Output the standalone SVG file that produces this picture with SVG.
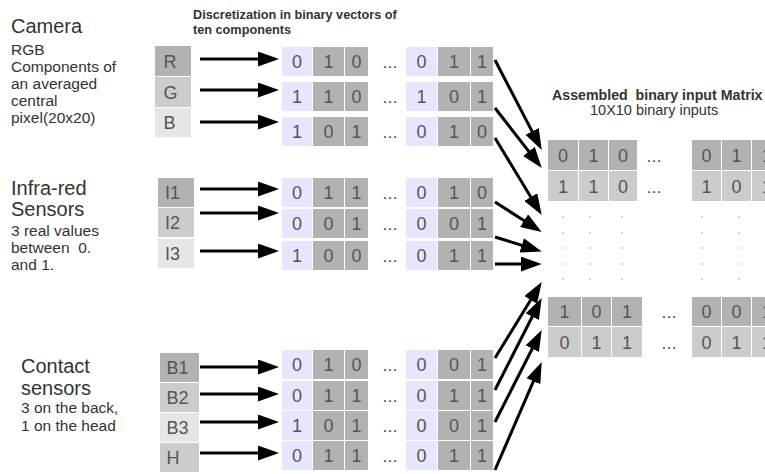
<svg xmlns="http://www.w3.org/2000/svg" width="765" height="474" viewBox="0 0 765 474">
<style>
.big{font-family:"Liberation Sans",Arial,sans-serif;font-size:20px;fill:#333}
.small{font-family:"Liberation Sans",Arial,sans-serif;font-size:15.5px;fill:#333;white-space:pre}
.title{font-family:"Liberation Sans",Arial,sans-serif;font-size:12.7px;font-weight:bold;fill:#333}
.mtitle{font-family:"Liberation Sans",Arial,sans-serif;font-size:14.2px;font-weight:bold;fill:#333;white-space:pre}
.msub{font-family:"Liberation Sans",Arial,sans-serif;font-size:14.5px;fill:#333}
.lab{font-family:"Liberation Sans",Arial,sans-serif;font-size:18px;fill:#555}
.d{font-family:"Liberation Sans",Arial,sans-serif;font-size:18px;fill:#555;text-anchor:middle}
.dots{font-family:"Liberation Sans",Arial,sans-serif;font-size:16px;fill:#333;text-anchor:middle}
.c1{fill:#b2b2b2}.c2{fill:#cccccc}.c3{fill:#e6e6e6}.lv{fill:#e6e6ff}
.arr{stroke:#000;stroke-width:3;fill:none;marker-end:url(#ah)}
.gd{fill:#8a8a8a}
</style>
<defs>
<marker id="ah" markerUnits="userSpaceOnUse" markerWidth="21" markerHeight="15" viewBox="0 0 21 15" refX="4" refY="7.5" orient="auto">
<path d="M0,0 L21,7.5 L0,15 z" fill="#000"/>
</marker>
<g id="vec">
<rect class="lv" x="282" y="0" width="30" height="29"/>
<rect class="c1" x="313" y="0" width="31" height="29"/>
<rect class="c1" x="345" y="0" width="23" height="29"/>
<rect class="lv" x="406" y="0" width="31" height="29"/>
<rect class="c1" x="438" y="0" width="32" height="29"/>
<rect class="c1" x="471" y="0" width="22" height="29"/>
</g>
</defs>

<!-- headings -->
<g id="titles">
<text class="title" x="193" y="19">Discretization in binary vectors of</text>
<text class="title" x="193" y="34">ten components</text>
</g>

<!-- Camera -->
<g id="camera">
<text class="big" x="11" y="33">Camera</text>
<text class="small" x="11" y="55">RGB</text>
<text class="small" x="11" y="72">Components of</text>
<text class="small" x="11" y="89">an averaged</text>
<text class="small" x="11" y="106">central</text>
<text class="small" x="11" y="123">pixel(20x20)</text>
</g>
<g id="label-R"><rect class="c1" x="155" y="46" width="36" height="30"/><text class="lab" x="163.5" y="67.5">R</text></g>
<g id="label-G"><rect class="c2" x="155" y="77" width="36" height="30"/><text class="lab" x="163.5" y="98.5">G</text></g>
<g id="label-B"><rect class="c3" x="155" y="108" width="36" height="29"/><text class="lab" x="163.5" y="129">B</text></g>

<!-- Infra-red -->
<g id="infrared">
<text class="big" x="11" y="195">Infra-red</text>
<text class="big" x="11" y="216">Sensors</text>
<text class="small" x="11" y="236">3 real values</text>
<text class="small" x="11" y="253">between  0.</text>
<text class="small" x="11" y="270">and 1.</text>
</g>
<g id="label-I1"><rect class="c1" x="158" y="178" width="36" height="29"/><text class="lab" x="165" y="199">I1</text></g>
<g id="label-I2"><rect class="c2" x="158" y="208" width="36" height="29"/><text class="lab" x="165" y="229">I2</text></g>
<g id="label-I3"><rect class="c3" x="158" y="239" width="36" height="29"/><text class="lab" x="165" y="260">I3</text></g>

<!-- Contact -->
<g id="contact">
<text class="big" x="21" y="373">Contact</text>
<text class="big" x="21" y="395">sensors</text>
<text class="small" x="21" y="413">3 on the back,</text>
<text class="small" x="21" y="431">1 on the head</text>
</g>
<g id="label-B1"><rect class="c1" x="160" y="353" width="39" height="29"/><text class="lab" x="166.5" y="374">B1</text></g>
<g id="label-B2"><rect class="c2" x="160" y="383" width="39" height="29"/><text class="lab" x="166.5" y="404">B2</text></g>
<g id="label-B3"><rect class="c3" x="160" y="413" width="39" height="29"/><text class="lab" x="166.5" y="434">B3</text></g>
<g id="label-H"><rect class="c2" x="160" y="443" width="39" height="29"/><text class="lab" x="166.5" y="464">H</text></g>

<!-- vectors -->
<g id="vec-R"><use href="#vec" y="47"/>
<text class="d" x="297" y="68">0</text><text class="d" x="328.5" y="68">1</text><text class="d" x="356.5" y="68">0</text><text class="dots" x="390" y="68">…</text><text class="d" x="421.5" y="68">0</text><text class="d" x="454" y="68">1</text><text class="d" x="482" y="68">1</text></g>
<g id="vec-G"><use href="#vec" y="82"/>
<text class="d" x="297" y="103">1</text><text class="d" x="328.5" y="103">1</text><text class="d" x="356.5" y="103">0</text><text class="dots" x="390" y="103">…</text><text class="d" x="421.5" y="103">1</text><text class="d" x="454" y="103">0</text><text class="d" x="482" y="103">1</text></g>
<g id="vec-B"><use href="#vec" y="117"/>
<text class="d" x="297" y="138">1</text><text class="d" x="328.5" y="138">0</text><text class="d" x="356.5" y="138">1</text><text class="dots" x="390" y="138">…</text><text class="d" x="421.5" y="138">0</text><text class="d" x="454" y="138">1</text><text class="d" x="482" y="138">0</text></g>

<g id="vec-I1"><use href="#vec" y="178"/>
<text class="d" x="297" y="199">0</text><text class="d" x="328.5" y="199">1</text><text class="d" x="356.5" y="199">1</text><text class="dots" x="390" y="199">…</text><text class="d" x="421.5" y="199">0</text><text class="d" x="454" y="199">1</text><text class="d" x="482" y="199">0</text></g>
<g id="vec-I2"><use href="#vec" y="209"/>
<text class="d" x="297" y="230">0</text><text class="d" x="328.5" y="230">0</text><text class="d" x="356.5" y="230">1</text><text class="dots" x="390" y="230">…</text><text class="d" x="421.5" y="230">0</text><text class="d" x="454" y="230">0</text><text class="d" x="482" y="230">1</text></g>
<g id="vec-I3"><use href="#vec" y="241"/>
<text class="d" x="297" y="262">1</text><text class="d" x="328.5" y="262">0</text><text class="d" x="356.5" y="262">0</text><text class="dots" x="390" y="262">…</text><text class="d" x="421.5" y="262">0</text><text class="d" x="454" y="262">1</text><text class="d" x="482" y="262">1</text></g>

<g id="vec-B1"><use href="#vec" y="350"/>
<text class="d" x="297" y="371">0</text><text class="d" x="328.5" y="371">1</text><text class="d" x="356.5" y="371">0</text><text class="dots" x="390" y="371">…</text><text class="d" x="421.5" y="371">0</text><text class="d" x="454" y="371">0</text><text class="d" x="482" y="371">1</text></g>
<g id="vec-B2"><use href="#vec" y="381"/>
<text class="d" x="297" y="402">0</text><text class="d" x="328.5" y="402">1</text><text class="d" x="356.5" y="402">1</text><text class="dots" x="390" y="402">…</text><text class="d" x="421.5" y="402">0</text><text class="d" x="454" y="402">1</text><text class="d" x="482" y="402">1</text></g>
<g id="vec-B3"><use href="#vec" y="411"/>
<text class="d" x="297" y="432">1</text><text class="d" x="328.5" y="432">0</text><text class="d" x="356.5" y="432">1</text><text class="dots" x="390" y="432">…</text><text class="d" x="421.5" y="432">0</text><text class="d" x="454" y="432">0</text><text class="d" x="482" y="432">1</text></g>
<g id="vec-H"><use href="#vec" y="441"/>
<text class="d" x="297" y="462">0</text><text class="d" x="328.5" y="462">1</text><text class="d" x="356.5" y="462">1</text><text class="dots" x="390" y="462">…</text><text class="d" x="421.5" y="462">0</text><text class="d" x="454" y="462">1</text><text class="d" x="482" y="462">1</text></g>

<!-- Matrix -->
<g id="matrix">
<text class="mtitle" x="552" y="100">Assembled  binary input Matrix</text>
<text class="msub" x="590" y="115">10X10 binary inputs</text>
<rect class="c1" x="548" y="140" width="30" height="30"/><rect class="c1" x="579" y="140" width="29" height="30"/><rect class="c1" x="609" y="140" width="28" height="30"/>
<rect class="c1" x="692" y="140" width="29" height="30"/><rect class="c1" x="722" y="140" width="29" height="30"/><rect class="c1" x="752" y="140" width="30" height="30"/>
<rect class="c2" x="548" y="171" width="30" height="30"/><rect class="c2" x="579" y="171" width="29" height="30"/><rect class="c2" x="609" y="171" width="28" height="30"/>
<rect class="c2" x="692" y="171" width="29" height="30"/><rect class="c2" x="722" y="171" width="29" height="30"/><rect class="c2" x="752" y="171" width="30" height="30"/>
<text class="d" x="563" y="161.5">0</text><text class="d" x="593.5" y="161.5">1</text><text class="d" x="623" y="161.5">0</text><text class="dots" x="654" y="161.5">…</text>
<text class="d" x="706.5" y="161.5">0</text><text class="d" x="736.5" y="161.5">1</text><text class="d" x="767" y="161.5">1</text>
<text class="d" x="563" y="192.5">1</text><text class="d" x="593.5" y="192.5">1</text><text class="d" x="623" y="192.5">0</text><text class="dots" x="654" y="192.5">…</text>
<text class="d" x="706.5" y="192.5">1</text><text class="d" x="736.5" y="192.5">0</text><text class="d" x="767" y="192.5">1</text>

<rect class="c1" x="548" y="297" width="33" height="29"/><rect class="c1" x="582" y="297" width="29" height="29"/><rect class="c1" x="612" y="297" width="30" height="29"/>
<rect class="c1" x="692" y="297" width="29" height="29"/><rect class="c1" x="722" y="297" width="29" height="29"/><rect class="c1" x="752" y="297" width="30" height="29"/>
<rect class="c2" x="548" y="327" width="33" height="30"/><rect class="c2" x="582" y="327" width="29" height="30"/><rect class="c2" x="612" y="327" width="30" height="30"/>
<rect class="c2" x="692" y="327" width="29" height="30"/><rect class="c2" x="722" y="327" width="29" height="30"/><rect class="c2" x="752" y="327" width="30" height="30"/>
<text class="d" x="564.5" y="318">1</text><text class="d" x="596.5" y="318">0</text><text class="d" x="627" y="318">1</text><text class="dots" x="669" y="318">…</text>
<text class="d" x="706.5" y="318">0</text><text class="d" x="736.5" y="318">0</text><text class="d" x="767" y="318">1</text>
<text class="d" x="564.5" y="348.5">0</text><text class="d" x="596.5" y="348.5">1</text><text class="d" x="627" y="348.5">1</text><text class="dots" x="669" y="348.5">…</text>
<text class="d" x="706.5" y="348.5">0</text><text class="d" x="736.5" y="348.5">1</text><text class="d" x="767" y="348.5">1</text>

<g class="gd">
<circle cx="563" cy="217" r="0.7"/><circle cx="590" cy="217" r="0.7"/><circle cx="622" cy="217" r="0.7"/><circle cx="702" cy="217" r="0.7"/><circle cx="739" cy="217" r="0.7"/>
<circle cx="563" cy="233" r="0.7"/><circle cx="590" cy="233" r="0.7"/><circle cx="622" cy="233" r="0.7"/><circle cx="702" cy="233" r="0.7"/><circle cx="739" cy="233" r="0.7"/>
<circle cx="563" cy="248" r="0.7"/><circle cx="590" cy="248" r="0.7"/><circle cx="622" cy="248" r="0.7"/><circle cx="702" cy="248" r="0.7"/><circle cx="739" cy="248" r="0.7"/>
<circle cx="563" cy="264" r="0.7"/><circle cx="590" cy="264" r="0.7"/><circle cx="622" cy="264" r="0.7"/><circle cx="702" cy="264" r="0.7"/><circle cx="739" cy="264" r="0.7"/>
<circle cx="563" cy="279" r="0.7"/><circle cx="590" cy="279" r="0.7"/><circle cx="622" cy="279" r="0.7"/><circle cx="702" cy="279" r="0.7"/><circle cx="739" cy="279" r="0.7"/>
</g>
</g>

<!-- connectors -->
<g id="connectors">
<line class="arr" x1="200" y1="59" x2="262" y2="59"/>
<line class="arr" x1="200" y1="90" x2="262" y2="90"/>
<line class="arr" x1="200" y1="122" x2="262" y2="122"/>
<line class="arr" x1="200" y1="189" x2="262" y2="189"/>
<line class="arr" x1="200" y1="213" x2="262" y2="213"/>
<line class="arr" x1="200" y1="251" x2="262" y2="251"/>
<line class="arr" x1="200" y1="367" x2="262" y2="367"/>
<line class="arr" x1="200" y1="394" x2="262" y2="394"/>
<line class="arr" x1="200" y1="422" x2="262" y2="422"/>
<line class="arr" x1="200" y1="453" x2="262" y2="453"/>

<line class="arr" x1="495" y1="60" x2="533.9" y2="134.9"/>
<line class="arr" x1="495" y1="108" x2="531.3" y2="154.6"/>
<line class="arr" x1="495" y1="138" x2="532.9" y2="200.5"/>
<line class="arr" x1="495" y1="202" x2="527.4" y2="222.8"/>
<line class="arr" x1="495" y1="237" x2="525.5" y2="246.5"/>
<line class="arr" x1="495" y1="264" x2="524.7" y2="264"/>
<line class="arr" x1="495" y1="358" x2="532.8" y2="296.5"/>
<line class="arr" x1="495" y1="390" x2="534.0" y2="313.2"/>
<line class="arr" x1="495" y1="422" x2="534.0" y2="345.2"/>
<line class="arr" x1="495" y1="470" x2="535.0" y2="377.6"/>
</g>
</svg>
